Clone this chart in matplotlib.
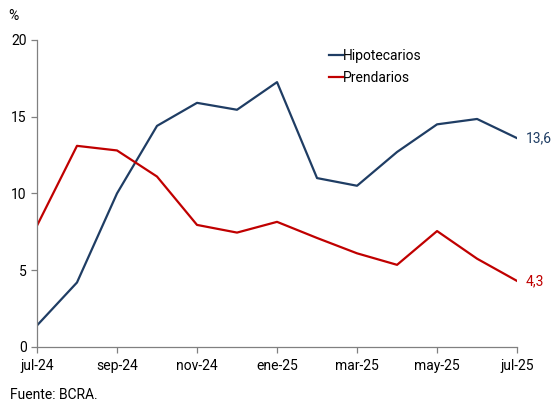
import matplotlib
matplotlib.use('Agg')
import matplotlib.pyplot as plt

plt.rcParams['font.family'] = ['Roboto', 'DejaVu Sans']

# Monthly data, jul-24 .. jul-25
months = ['jul-24', 'ago-24', 'sep-24', 'oct-24', 'nov-24', 'dic-24', 'ene-25',
          'feb-25', 'mar-25', 'abr-25', 'may-25', 'jun-25', 'jul-25']
hipotecarios = [1.4, 4.2, 10.0, 14.4, 15.9, 15.45, 17.25, 11.0, 10.5, 12.7, 14.5, 14.85, 13.6]
prendarios = [7.9, 13.1, 12.8, 11.1, 7.95, 7.45, 8.15, 7.1, 6.1, 5.35, 7.55, 5.75, 4.3]

navy = '#1f3d64'
red = '#c00000'

fig = plt.figure(figsize=(5.56, 4.03), dpi=100)
ax = fig.add_axes([0.0665, 0.139, 0.8635, 0.762])

x = list(range(len(months)))
ax.plot(x, hipotecarios, color=navy, lw=1.6, label='Hipotecarios')
ax.plot(x, prendarios, color=red, lw=1.6, label='Prendarios')

ax.set_xlim(0, len(months) - 1)
ax.set_ylim(0, 20)
ax.set_yticks([0, 5, 10, 15, 20])
ax.set_xticks(x[::2])
ax.set_xticklabels(months[::2])

for s in ['top', 'right']:
    ax.spines[s].set_visible(False)
for s in ['left', 'bottom']:
    ax.spines[s].set_color('#808080')
    ax.spines[s].set_linewidth(0.9)
ax.tick_params(axis='both', colors='#808080', labelcolor='black', labelsize=10, length=4, width=0.9)
ax.tick_params(axis='x', pad=5)

# end labels
ax.annotate('13,6', (x[-1], hipotecarios[-1]), xytext=(6, 0), textcoords='offset points',
            va='center', ha='left', color=navy, fontsize=10, annotation_clip=False)
ax.annotate('4,3', (x[-1], prendarios[-1]), xytext=(6, 0), textcoords='offset points',
            va='center', ha='left', color=red, fontsize=10, annotation_clip=False)

ax.legend(loc='upper left', bbox_to_anchor=(0.596, 0.99), frameon=False, fontsize=10,
          handlelength=1.0, handletextpad=0.0, labelspacing=0.6, borderaxespad=0)

fig.text(0.014, 0.96, '%', fontsize=10, ha='left', va='center')
fig.text(0.018, 0.02, 'Fuente: BCRA.', fontsize=10, ha='left', va='center')

fig.savefig('out.png', dpi=100)
